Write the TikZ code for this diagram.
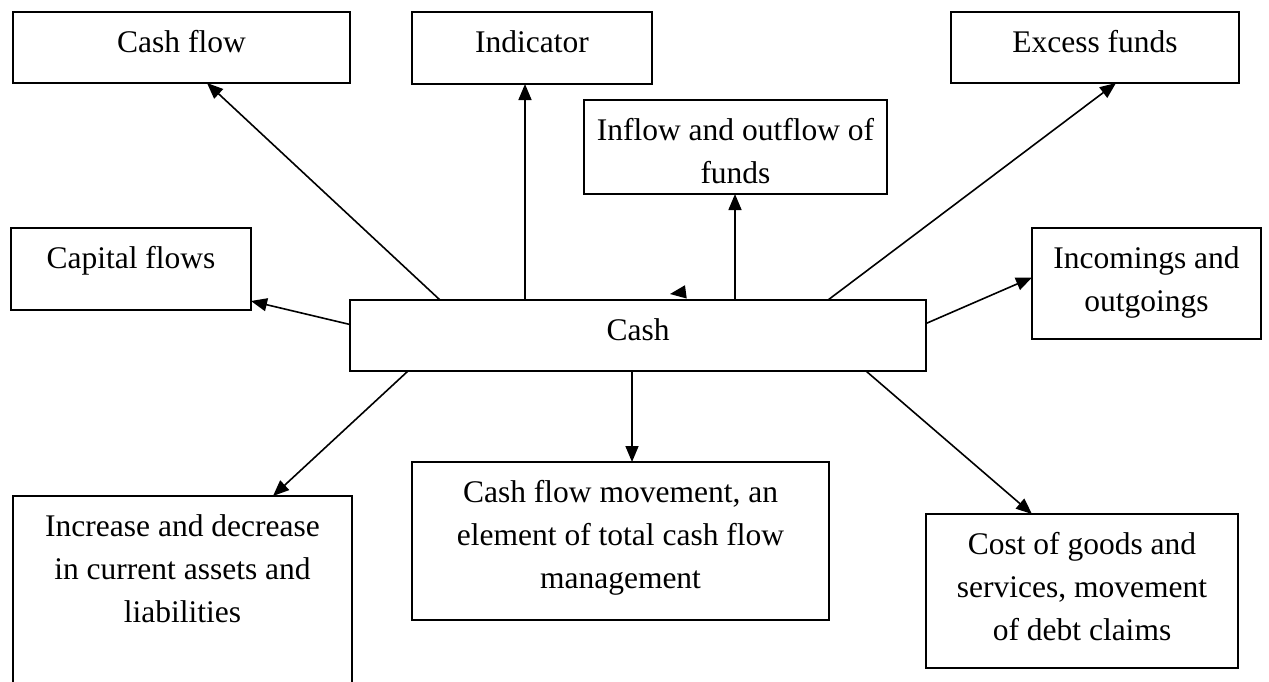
\documentclass[tikz,border=0pt]{standalone}
\usepackage{fontspec}
\setmainfont{Liberation Serif}
\usetikzlibrary{arrows.meta,calc}
% fixed-size box content, text set from the top
\newcommand{\boxtext}[3]{\parbox[c][#2][t]{#1}{\centering\rule{0pt}{40pt}#3}}

\begin{document}
\begin{tikzpicture}[x=1pt,y=-1pt,
  box/.style={draw,line width=1.7pt,inner sep=0pt,outer sep=0pt,anchor=north west,
              font=\fontsize{31.5}{43}\selectfont},
  link/.style={line width=1.6pt,-{Triangle[length=16pt,width=13pt]}}]
\clip (0,0) rectangle (1269,681);

% top row
\node[box] (cf)  at (13,12)   {\boxtext{337pt}{71pt}{Cash flow}};
\node[box] (ind) at (412,12)  {\boxtext{240pt}{72pt}{Indicator}};
\node[box] (exc) at (951,12)  {\boxtext{288pt}{71pt}{Excess funds}};
\node[box] (inf) at (584,100) {\boxtext{303pt}{94pt}{Inflow and outflow of\\funds}};

% middle row
\node[box] (cap)  at (11,228)   {\boxtext{240pt}{82pt}{Capital flows}};
\node[box] (cash) at (350,300)  {\boxtext{576pt}{71pt}{Cash}};
\node[box] (inc)  at (1032,228) {\boxtext{229pt}{111pt}{Incomings and\\outgoings}};

% bottom row
\node[box] (incr) at (13,496)  {\boxtext{339pt}{210pt}{Increase and decrease\\in current assets and\\liabilities}};
\node[box] (mid)  at (412,462) {\boxtext{417pt}{158pt}{Cash flow movement, an\\element of total cash flow\\management}};
\node[box] (cost) at (926,514) {\boxtext{312pt}{154pt}{Cost of goods and\\services, movement\\of debt claims}};

% start points on the central box
\coordinate (t1) at ($(cash.north west)+(90,0)$);
\coordinate (t2) at ($(cash.north west)+(175,0)$);
\coordinate (t3) at ($(cash.north west)+(385,0)$);
\coordinate (t4) at ($(cash.north west)+(478,0)$);
\coordinate (b1) at ($(cash.south west)+(58,0)$);
\coordinate (b2) at ($(cash.south west)+(282,0)$);
\coordinate (b3) at ($(cash.south west)+(516,0)$);
\coordinate (s1) at ($(cash.north west)+(335,-8)$);
\coordinate (s2) at ($(cash.north west)+(320,-6)$);

% connectors
\draw[link] (t1) -- ($(cf.south)+(25.5,0)$);
\draw[link] (t2) -- (t2 |- ind.south);
\draw[link] (t3) -- (t3 |- inf.south);
\draw[link] (t4) -- ($(exc.south)+(21,0)$);
\draw[link] ($(cash.west)+(0,-11)$) -- ($(cap.south east)+(0,-9)$);
\draw[link] ($(cash.east)+(0,-12)$) -- ($(inc.west)+(0,-6)$);
\draw[link] (b1) -- ($(incr.north)+(90.5,0)$);
\draw[link] (b2) -- (b2 |- mid.north);
\draw[link] (b3) -- ($(cost.north)+(-50,0)$);
\draw[link] (s1) -- (s2);
\end{tikzpicture}
\end{document}
